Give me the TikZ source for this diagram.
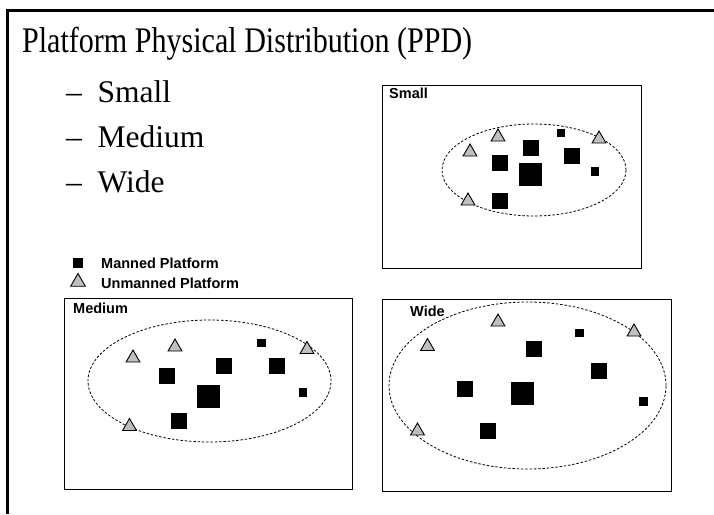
\documentclass[tikz,border=0pt]{standalone}
\usepackage{fontspec}
\setmainfont{Liberation Serif}
\newfontfamily\arial{Liberation Sans}
\usetikzlibrary{shapes.geometric}
\tikzset{
  panel/.style={draw, line width=1.4pt, rectangle, inner sep=0pt, anchor=north west},
  cloud/.style={draw, dashed, dash pattern=on 2.5pt off 1.8pt, line width=0.8pt, ellipse, inner sep=0pt},
  bigsq/.style={fill=black, rectangle, inner sep=0pt, minimum size=23pt},
  medsq/.style={fill=black, rectangle, inner sep=0pt, minimum size=16pt},
  smsq/.style={fill=black, rectangle, inner sep=0pt, minimum size=8.5pt},
  tri/.style={draw, line width=0.9pt, fill=gray!50, regular polygon, regular polygon sides=3, minimum size=16pt, inner sep=0pt},
  paneltitle/.style={font=\arial\bfseries\fontsize{14.5}{16}\selectfont, anchor=west, inner sep=0pt},
  bullet/.style={font=\fontsize{31.5}{34}\selectfont, anchor=base west, inner sep=0pt},
}
\begin{document}
\begin{tikzpicture}[x=1pt,y=-1pt]
\useasboundingbox (0,0) rectangle (714,514);
% outer frame
\coordinate (ftl) at (7,10);
\coordinate (ftr) at (714,10);
\coordinate (fbl) at (7,514);
\draw[line width=3pt] (ftr) -- (ftl) -- (fbl);
% title
\node[font=\fontsize{36}{40}\selectfont, anchor=base west, inner sep=0pt, xscale=0.835] (title) at (22,52) {Platform Physical Distribution (PPD)};
% bullets
\node[bullet] (b1) at (66,102) {\textendash\ \ Small};
\node[bullet] (b2) at (66,147) {\textendash\ \ Medium};
\node[bullet] (b3) at (66,192) {\textendash\ \ Wide};
% legend
\node[smsq, minimum size=10pt] (lsq) at (78,263) {};
\node[paneltitle] (lmt) at (101,263) {Manned Platform};
\node[tri, minimum size=17pt] (ltri) at (78,282) {};
\node[paneltitle] (lut) at (101,283) {Unmanned Platform};

% ---------- Small panel ----------
\node[panel, minimum width=259pt, minimum height=183pt] (ps) at (382,85) {};
\node[paneltitle] (pst) at (389,93) {Small};
\node[cloud, minimum width=184pt, minimum height=92pt] (es) at (534,170) {};
\node[medsq] (s1) at (530.5,147.5) {};
\node[medsq] (s2) at (500,163) {};
\node[bigsq] (s3) at (530,174.5) {};
\node[medsq] (s4) at (572,156) {};
\node[smsq] (s5) at (561,133) {};
\node[smsq] (s6) at (595,171.5) {};
\node[medsq] (s7) at (500,201) {};
\node[tri] (st1) at (498,137) {};
\node[tri] (st2) at (470,152) {};
\node[tri] (st3) at (599,139) {};
\node[tri] (st4) at (468,201) {};

% ---------- Medium panel ----------
\node[panel, minimum width=288pt, minimum height=191pt] (pm) at (64,298) {};
\node[paneltitle] (pmt) at (73,308) {Medium};
\node[cloud, minimum width=243pt, minimum height=122pt] (em) at (209.5,381) {};
\node[medsq] (m1) at (167,376) {};
\node[medsq] (m2) at (224,366) {};
\node[medsq] (m3) at (276.5,366) {};
\node[bigsq] (m4) at (208.5,396) {};
\node[smsq] (m5) at (261.5,343) {};
\node[smsq] (m6) at (303,392.5) {};
\node[medsq] (m7) at (179,421) {};
\node[tri] (mt1) at (133,358) {};
\node[tri] (mt2) at (175,347) {};
\node[tri] (mt3) at (307,349.5) {};
\node[tri] (mt4) at (129.5,426.5) {};

% ---------- Wide panel ----------
\node[panel, minimum width=289pt, minimum height=192pt] (pw) at (382,299) {};
\node[paneltitle] (pwt) at (410,311) {Wide};
\node[cloud, minimum width=277pt, minimum height=167pt] (ew) at (527.5,385.5) {};
\node[medsq] (w1) at (533.5,348.5) {};
\node[medsq] (w2) at (598.5,371) {};
\node[medsq] (w3) at (465,388.5) {};
\node[bigsq] (w4) at (522.5,393.5) {};
\node[medsq] (w5) at (488,431) {};
\node[smsq] (w6) at (579.5,333) {};
\node[smsq] (w7) at (643.5,401.5) {};
\node[tri] (wt1) at (498,322) {};
\node[tri] (wt2) at (427.5,346.5) {};
\node[tri] (wt3) at (634,332) {};
\node[tri] (wt4) at (417.5,431) {};
\end{tikzpicture}
\end{document}
